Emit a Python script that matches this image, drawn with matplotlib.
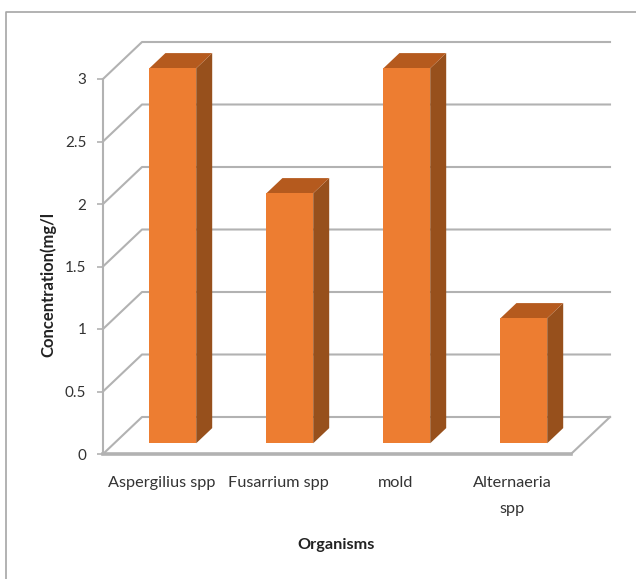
import matplotlib
matplotlib.use("Agg")
import matplotlib.pyplot as plt
from matplotlib.lines import Line2D

plt.rcParams["font.family"] = ["Lato", "DejaVu Sans"]

categories = ["Aspergilius spp", "Fusarrium spp", "mold", "Alternaeria\nspp"]
concentration = [3, 2, 3, 1]
y_ticks = [0, 0.5, 1, 1.5, 2, 2.5, 3]
y_tick_labels = ["0", "0.5", "1", "1.5", "2", "2.5", "3"]

W, H = 636, 579
GREY = "#b2b2b2"
FRONT = "#ed7d31"
TOP = "#b55a1e"
SIDE = "#97501c"
TEXT = "#333333"

# how far the back wall is shifted from the front, in data units
depth_x = 39 / 117
depth_y = 37 / 125
bar_width = 0.4
bar_near, bar_far = 0.29, 0.70


def shift(x, y, d):
    return x + d * depth_x, y + d * depth_y


fig = plt.figure(figsize=(W / 100, H / 100), dpi=100)
ax = fig.add_axes([103 / W, (H - 454) / H, 468 / W, 375 / H])
ax.set_xlim(-0.5, 3.5)
ax.set_ylim(0, 3)
ax.patch.set_visible(False)

# outer chart frame, only top and left show in the crop
fig.add_artist(Line2D([6 / W, 6 / W, 1], [0, (H - 12) / H, (H - 12) / H],
                      color="#a6a6a6", lw=1.2, transform=fig.transFigure))

# walls
for t in y_ticks:
    bx, by = shift(-0.5, t, 1)
    ex, _ = shift(3.5, t, 1)
    ax.plot([-0.5, bx, ex], [t, by, by], color=GREY, lw=1.5, clip_on=False, zorder=1)

# floor
fx, fy = shift(3.5, 0, 1)
ax.plot([3.5, fx], [0, fy], color=GREY, lw=1.5, clip_on=False, zorder=1)

# bars
for i, val in enumerate(concentration):
    x0 = i - bar_width / 2
    x1 = i + bar_width / 2
    a = shift(x0, 0, bar_near)
    b = shift(x1, 0, bar_near)
    c = shift(x1, val, bar_near)
    d = shift(x0, val, bar_near)
    e = shift(x1, 0, bar_far)
    f = shift(x1, val, bar_far)
    g = shift(x0, val, bar_far)
    ax.fill(*zip(b, e, f, c), color=SIDE, lw=0, clip_on=False, zorder=3)
    ax.fill(*zip(d, c, f, g), color=TOP, lw=0, clip_on=False, zorder=3)
    ax.fill(*zip(a, b, c, d), color=FRONT, lw=0, clip_on=False, zorder=4)

for side in ["top", "right"]:
    ax.spines[side].set_visible(False)
ax.spines["left"].set_color(GREY)
ax.spines["left"].set_linewidth(1.5)
ax.spines["bottom"].set_color(GREY)
ax.spines["bottom"].set_linewidth(2.6)

ax.set_yticks(y_ticks, y_tick_labels)
ax.set_xticks(range(len(categories)), categories, linespacing=2.1)
ax.tick_params(axis="y", length=4, width=1.2, color=GREY, labelcolor=TEXT,
               labelsize=11, pad=8)
ax.tick_params(axis="x", length=0, labelcolor=TEXT, labelsize=11.7, pad=16)

ax.set_xlabel("Organisms", fontweight="bold", fontsize=11.7, color="#222222")
ax.xaxis.set_label_coords(0.497, -0.225)
ax.set_ylabel("Concentration(mg/l", fontweight="bold", fontsize=12, color="#222222")
ax.yaxis.set_label_coords(-0.099, 0.453)

fig.savefig("out.png", dpi=100, facecolor="white")
